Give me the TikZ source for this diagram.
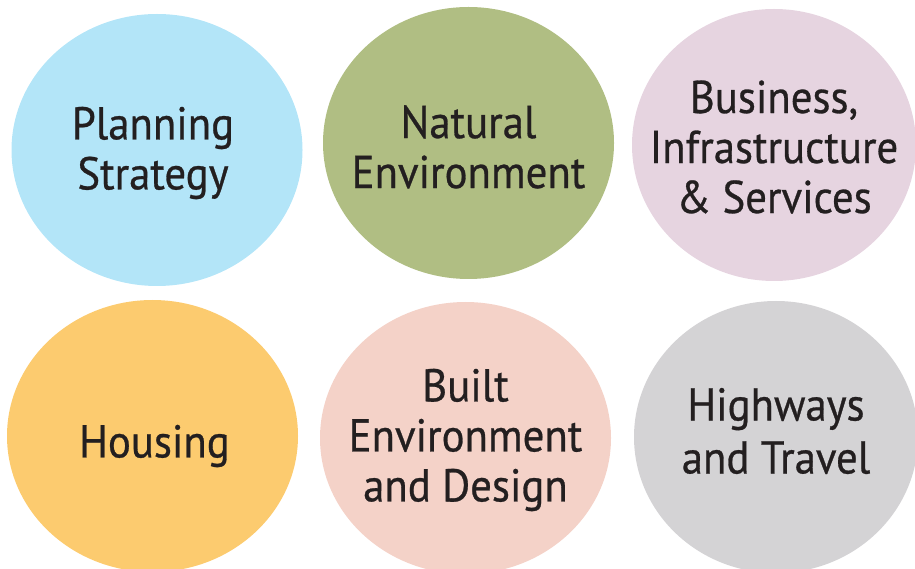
\documentclass[tikz,border=0pt]{standalone}
\usepackage{fontspec}
\setmainfont{PT Sans}[FakeStretch=0.93,FakeBold=0.6]
\usetikzlibrary{shapes.geometric}
\definecolor{cBlue}{HTML}{B3E5F8}
\definecolor{cGreen}{HTML}{B0BE83}
\definecolor{cLav}{HTML}{E6D4E0}
\definecolor{cYel}{HTML}{FCCB6F}
\definecolor{cSal}{HTML}{F4D2C8}
\definecolor{cGray}{HTML}{D4D3D5}
\definecolor{cText}{HTML}{231F20}
\tikzset{
  blob/.style={ellipse, minimum width=291pt, minimum height=272pt, inner sep=0pt, draw=none},
  lbl/.style={align=center, text=cText, inner sep=0pt, font=\fontsize{46}{50}\selectfont}
}
\begin{document}
\begin{tikzpicture}[x=1pt,y=1pt]
\useasboundingbox (0,0) rectangle (915,568);
\clip (0,0) rectangle (915,568);
\node[blob, fill=cBlue]  (plan) at (157,418) {};
\node[blob, fill=cGreen] (nat)  at (468.5,425) {};
\node[blob, fill=cLav, minimum width=284pt]   (bus)  at (774,423) {};
\node[blob, fill=cYel]   (hou)  at (152.5,132) {};
\node[blob, fill=cSal]   (bui)  at (465.5,130) {};
\node[blob, fill=cGray, minimum width=284pt]  (hig)  at (776,131) {};
\node[lbl] (planT) at ([xshift=-4pt,yshift=-3pt]plan.center) {Planning\\Strategy};
\node[lbl] (natT)  at ([yshift=-4pt]nat.center) {Natural\\Environment};
\node[lbl] (busT)  at ([yshift=-2pt]bus.center) {Business,\\Infrastructure\\\& Services};
\node[lbl] (houT)  at ([xshift=2pt,yshift=-10pt]hou.center) {Housing};
\node[lbl] (buiT)  at ([yshift=-2pt]bui.center) {Built\\Environment\\and Design};
\node[lbl, font=\fontsize{46}{53}\selectfont] (higT)  at ([yshift=6pt]hig.center) {Highways\\and Travel};
\end{tikzpicture}
\end{document}
